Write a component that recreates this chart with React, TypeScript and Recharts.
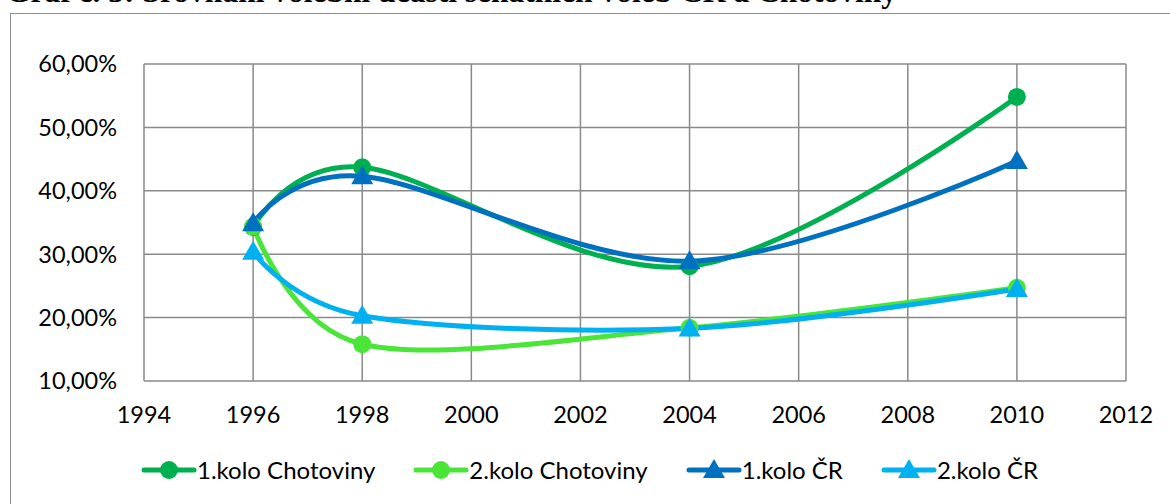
import { LineChart, Line, XAxis, YAxis, CartesianGrid, Legend } from 'recharts';

const YEARS = [1996, 1998, 2004, 2010];
const CHOT_1 = [34.3, 43.7, 28.1, 54.8];
const CHOT_2 = [34.4, 15.8, 18.4, 24.7];
const CR_1 = [34.9, 42.3, 28.9, 44.7];
const CR_2 = [30.4, 20.3, 18.3, 24.5];

const X_TICKS = [1994, 1996, 1998, 2000, 2002, 2004, 2006, 2008, 2010, 2012];
const Y_TICKS = [10, 20, 30, 40, 50, 60];

const TITLE = 'Graf č. 3: Srovnání volební účasti senátních voleb ČR a Chotoviny';

const SERIES = [
    { key: 'chot1', name: '1.kolo Chotoviny', color: '#00B050', shape: 'circle', values: CHOT_1 },
    { key: 'chot2', name: '2.kolo Chotoviny', color: '#4BE53A', shape: 'circle', values: CHOT_2 },
    { key: 'cr1', name: '1.kolo ČR', color: '#0070C0', shape: 'triangle', values: CR_1 },
    { key: 'cr2', name: '2.kolo ČR', color: '#00B0F0', shape: 'triangle', values: CR_2 },
];

const data = YEARS.map((year, i) => {
    const row: any = { year };
    SERIES.forEach(s => { row[s.key] = s.values[i]; });
    return row;
});

// Excel style smoothing (cardinal spline, tension 0)
const excelSmooth = (ctx: any) => {
    let x0 = NaN, y0 = NaN, x1 = NaN, y1 = NaN, x2 = NaN, y2 = NaN, n = 0;
    const k = 1 / 6;
    const seg = (x: number, y: number) =>
        ctx.bezierCurveTo(x1 + k * (x2 - x0), y1 + k * (y2 - y0), x2 + k * (x1 - x), y2 + k * (y1 - y), x2, y2);
    return {
        areaStart() {},
        areaEnd() {},
        lineStart() { x0 = x1 = x2 = y0 = y1 = y2 = NaN; n = 0; },
        lineEnd() {
            if (n === 2) ctx.lineTo(x2, y2);
            else if (n === 3) seg(x1, y1);
        },
        point(x: number, y: number) {
            if (n === 0) { n = 1; ctx.moveTo(x, y); }
            else if (n === 1) { n = 2; x1 = x; y1 = y; }
            else { n = 3; seg(x, y); }
            x0 = x1; x1 = x2; x2 = x;
            y0 = y1; y1 = y2; y2 = y;
        },
    };
};

const Marker = ({ cx, cy, color, shape }: any) => {
    if (cx == null || cy == null) return null;
    if (shape === 'circle') return <circle cx={cx} cy={cy} r={9} fill={color} />;
    return <path d={`M${cx},${cy - 11}L${cx + 11},${cy + 8}L${cx - 11},${cy + 8}Z`} fill={color} />;
};

const LegendContent = () => (
    <div style={{ display: 'flex', alignItems: 'center', gap: 38, paddingLeft: 141, height: 28 }}>
        {SERIES.map(s => (
            <div key={s.key} style={{ display: 'flex', alignItems: 'center' }}>
                <svg width={56} height={24}>
                    <line x1={3} y1={12} x2={53} y2={12} stroke={s.color} strokeWidth={5} strokeLinecap="round" />
                    <Marker cx={28} cy={12} color={s.color} shape={s.shape} />
                </svg>
                <span style={{ fontSize: 24, color: '#000', lineHeight: '28px' }}>{s.name}</span>
            </div>
        ))}
    </div>
);

export default function App() {
    return (
        <div>
            <div style={{
                position: 'absolute', left: 6, top: -24, whiteSpace: 'nowrap',
                fontFamily: '"Liberation Serif", serif', fontWeight: 'bold', fontSize: 31.5, lineHeight: 1,
            }}>
                {TITLE}
            </div>
            <div style={{
                position: 'absolute', left: 10, top: 13, width: 1200, height: 600,
                border: '1.5px solid #8c8c8c', background: '#fff',
            }} />
            <div style={{ position: 'absolute', left: 0, top: 0 }}>
                <LineChart
                    width={1170}
                    height={504}
                    data={data}
                    margin={{ top: 64, right: 44, left: 0, bottom: 83 }}
                    style={{ fontFamily: 'Lato, sans-serif' }}
                >
                    <CartesianGrid stroke="#8a8a8a" strokeWidth={1.5} />
                    <XAxis
                        dataKey="year"
                        type="number"
                        domain={[1994, 2012]}
                        ticks={X_TICKS}
                        interval={0}
                        axisLine={false}
                        tickLine={false}
                        tickSize={0}
                        tickMargin={25}
                        height={40}
                        tick={{ fontSize: 23.5, fill: '#000' }}
                    />
                    <YAxis
                        type="number"
                        domain={[10, 60]}
                        ticks={Y_TICKS}
                        interval={0}
                        axisLine={false}
                        tickLine={false}
                        tickSize={0}
                        tickMargin={27}
                        width={144}
                        tickFormatter={(v: number) => `${v},00%`}
                        tick={{ fontSize: 23.5, fill: '#000' }}
                    />
                    {SERIES.map(s => (
                        <Line
                            key={s.key}
                            dataKey={s.key}
                            name={s.name}
                            type={excelSmooth as any}
                            stroke={s.color}
                            strokeWidth={5}
                            isAnimationActive={false}
                            dot={(p: any) => <Marker key={`${s.key}-${p.index}`} cx={p.cx} cy={p.cy} color={s.color} shape={s.shape} />}
                            activeDot={false}
                        />
                    ))}
                    <Legend
                        layout="horizontal"
                        verticalAlign="middle"
                        align="center"
                        wrapperStyle={{ top: 456, left: 0, width: 1170 }}
                        content={() => <LegendContent />}
                    />
                </LineChart>
            </div>
        </div>
    );
}
